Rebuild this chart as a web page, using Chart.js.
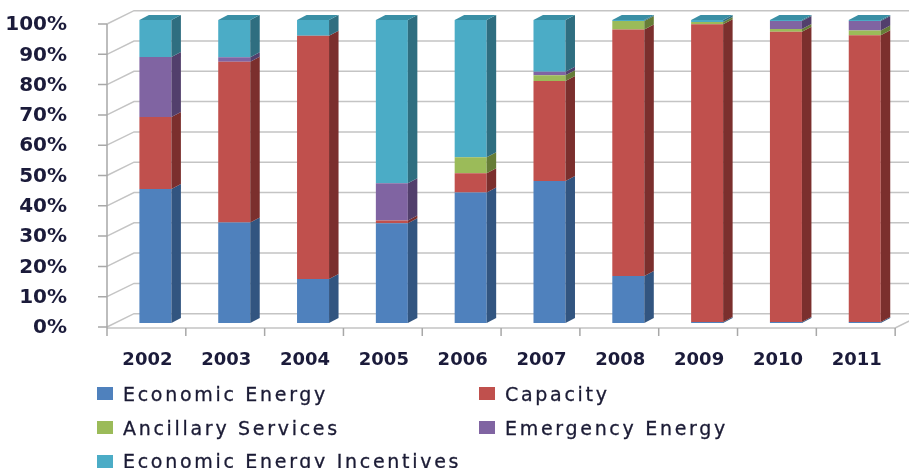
<!DOCTYPE html>
<html>
<head>
<meta charset="utf-8">
<script src="https://cdn.jsdelivr.net/npm/chart.js@4.4.1/dist/chart.umd.min.js"></script>
<style>
  html, body { margin: 0; padding: 0; background: #fff; }
  #contenedor { position: relative; width: 909px; height: 468px; overflow: hidden; }
  #grafico { position: absolute; left: 0; top: 0; }
  #leyenda {
    position: absolute; left: 97px; top: 377px;
    display: grid; grid-template-columns: 382px auto; grid-auto-rows: 33.7px;
    font: 19px "DejaVu Sans"; letter-spacing: 2.7px; color: #1b1b35;
    -webkit-text-stroke: 0.3px #1b1b35;
  }
  .item { display: flex; align-items: center; white-space: nowrap; }
  .caja { width: 16px; height: 13px; margin-right: 10px; flex: none; }
</style>
</head>
<body>
<div id="contenedor">
  <canvas id="grafico" width="909" height="468"></canvas>
  <div id="leyenda"></div>
</div>
<script>
const anios = ['2002', '2003', '2004', '2005', '2006', '2007', '2008', '2009', '2010', '2011'];
const etiquetasY = ['0%', '10%', '20%', '30%', '40%', '50%', '60%', '70%', '80%', '90%', '100%'];

const series = ['Economic Energy', 'Capacity', 'Ancillary Services', 'Emergency Energy', 'Economic Energy Incentives'];
const energiaEconomica = [44.2, 33.2, 14.5, 32.9, 43.1, 46.9, 15.5, 0.3, 0.3, 0.3];
const capacidad = [23.8, 53.0, 80.3, 0.9, 6.3, 33.0, 81.4, 98.3, 95.8, 94.7];
const serviciosAuxiliares = [0, 0, 0, 0, 5.3, 1.9, 2.8, 0.7, 0.9, 1.5];
const energiaEmergencia = [19.8, 1.5, 0, 12.3, 0, 1.1, 0, 0, 2.7, 3.2];
const incentivos = [12.2, 12.3, 5.2, 53.9, 45.3, 17.1, 0.3, 0.7, 0.3, 0.3];

const colores = ['#4f81bd', '#c0504d', '#9bbb59', '#8064a2', '#4bacc6'];
const coloresLado = ['#325580', '#7b2f2d', '#667d37', '#523f6c', '#2f6e80'];
const colorTapa = '#3a8fa5';
const textoEjes = '#1b1b3a';

const valores = [energiaEconomica, capacidad, serviciosAuxiliares, energiaEmergencia, incentivos];

// caras laterales y paredes para imitar el 3D de Excel
const profundidad = {
  id: 'profundidad',
  beforeDatasetsDraw(chart) {
    const { ctx, chartArea: a, scales: { x, y } } = chart;
    const fx = -9, fy = 4, bx = 18, by = -9.3;
    const y0 = y.getPixelForValue(0);
    ctx.save();
    ctx.strokeStyle = '#c4c4c4';
    ctx.lineWidth = 1.5;
    y.ticks.forEach(t => {
      const py = y.getPixelForValue(t.value);
      ctx.beginPath();
      ctx.moveTo(a.left + fx, py + fy);
      ctx.lineTo(a.left + bx, py + by);
      ctx.lineTo(chart.width, py + by);
      ctx.stroke();
    });
    ctx.beginPath();
    ctx.moveTo(a.left + fx, y0 + fy + 1);
    ctx.lineTo(a.right + fx, y0 + fy + 1);
    ctx.lineTo(a.right + bx, y0 + by + 1);
    ctx.stroke();

    ctx.strokeStyle = '#a8a8a8';
    ctx.beginPath();
    ctx.moveTo(a.left + fx, y0 + fy + 1);
    ctx.lineTo(a.left + fx, y.getPixelForValue(100) + fy);
    y.ticks.forEach(t => {
      const py = y.getPixelForValue(t.value) + fy;
      ctx.moveTo(a.left + fx - 9, py);
      ctx.lineTo(a.left + fx, py);
    });
    const medio = (x.getPixelForValue(1) - x.getPixelForValue(0)) / 2;
    for (let i = 0; i <= anios.length; i++) {
      const px = x.getPixelForValue(i) - medio + fx;
      ctx.moveTo(px, y0 + fy + 1);
      ctx.lineTo(px, y0 + fy + 9);
    }
    ctx.stroke();
    ctx.restore();
  },
  afterDatasetsDraw(chart) {
    const ctx = chart.ctx;
    const dx = 9.5, dy = 5;
    ctx.save();
    chart.data.datasets.forEach((ds, i) => {
      chart.getDatasetMeta(i).data.forEach(bar => {
        const { x, y, base, width } = bar.getProps(['x', 'y', 'base', 'width'], true);
        if (base - y < 0.3) return;
        const r = x + width / 2;
        ctx.fillStyle = coloresLado[i];
        ctx.beginPath();
        ctx.moveTo(r, y);
        ctx.lineTo(r + dx, y - dy);
        ctx.lineTo(r + dx, base - dy);
        ctx.lineTo(r, base);
        ctx.closePath();
        ctx.fill();
      });
    });
    const ultimo = chart.getDatasetMeta(chart.data.datasets.length - 1).data;
    ultimo.forEach(bar => {
      const { x, y, width } = bar.getProps(['x', 'y', 'width'], true);
      const l = x - width / 2, r = x + width / 2;
      ctx.fillStyle = colorTapa;
      ctx.beginPath();
      ctx.moveTo(l, y);
      ctx.lineTo(l + dx, y - dy);
      ctx.lineTo(r + dx, y - dy);
      ctx.lineTo(r, y);
      ctx.closePath();
      ctx.fill();
    });
    ctx.restore();
  }
};

const ctx = document.getElementById('grafico').getContext('2d');
new Chart(ctx, {
  type: 'bar',
  data: {
    labels: anios,
    datasets: series.map((nombre, i) => ({
      label: nombre,
      data: valores[i],
      backgroundColor: colores[i],
      borderWidth: 0
    }))
  },
  options: {
    responsive: false,
    animation: false,
    layout: { padding: { top: 20, right: 4, left: 0, bottom: 0 } },
    datasets: { bar: { categoryPercentage: 1, barPercentage: 0.406 } },
    plugins: {
      legend: { display: false },
      tooltip: { enabled: false }
    },
    scales: {
      x: {
        stacked: true,
        grid: { display: false },
        border: { display: false },
        ticks: {
          color: textoEjes,
          font: { family: 'DejaVu Sans', size: 18, weight: 'bold' },
          padding: 19,
          labelOffset: -8,
          maxRotation: 0
        },
        afterFit: s => { s.height = 145; }
      },
      y: {
        stacked: true,
        min: 0,
        max: 100,
        grid: { display: false },
        border: { display: false },
        ticks: {
          stepSize: 10,
          color: textoEjes,
          font: { family: 'DejaVu Sans', size: 20, weight: 'bold' },
          padding: 41,
          labelOffset: 5,
          callback: (v, i) => etiquetasY[i]
        },
        afterFit: s => {
          s.width = 116;
          s.paddingTop = 0;
          s.paddingBottom = 0;
        }
      }
    }
  },
  plugins: [profundidad]
});

// leyenda en dos columnas como en el original
const leyenda = document.getElementById('leyenda');
series.forEach((nombre, i) => {
  const item = document.createElement('div');
  item.className = 'item';
  item.innerHTML = `<span class="caja" style="background:${colores[i]}"></span>${nombre}`;
  leyenda.appendChild(item);
});
</script>
</body>
</html>
